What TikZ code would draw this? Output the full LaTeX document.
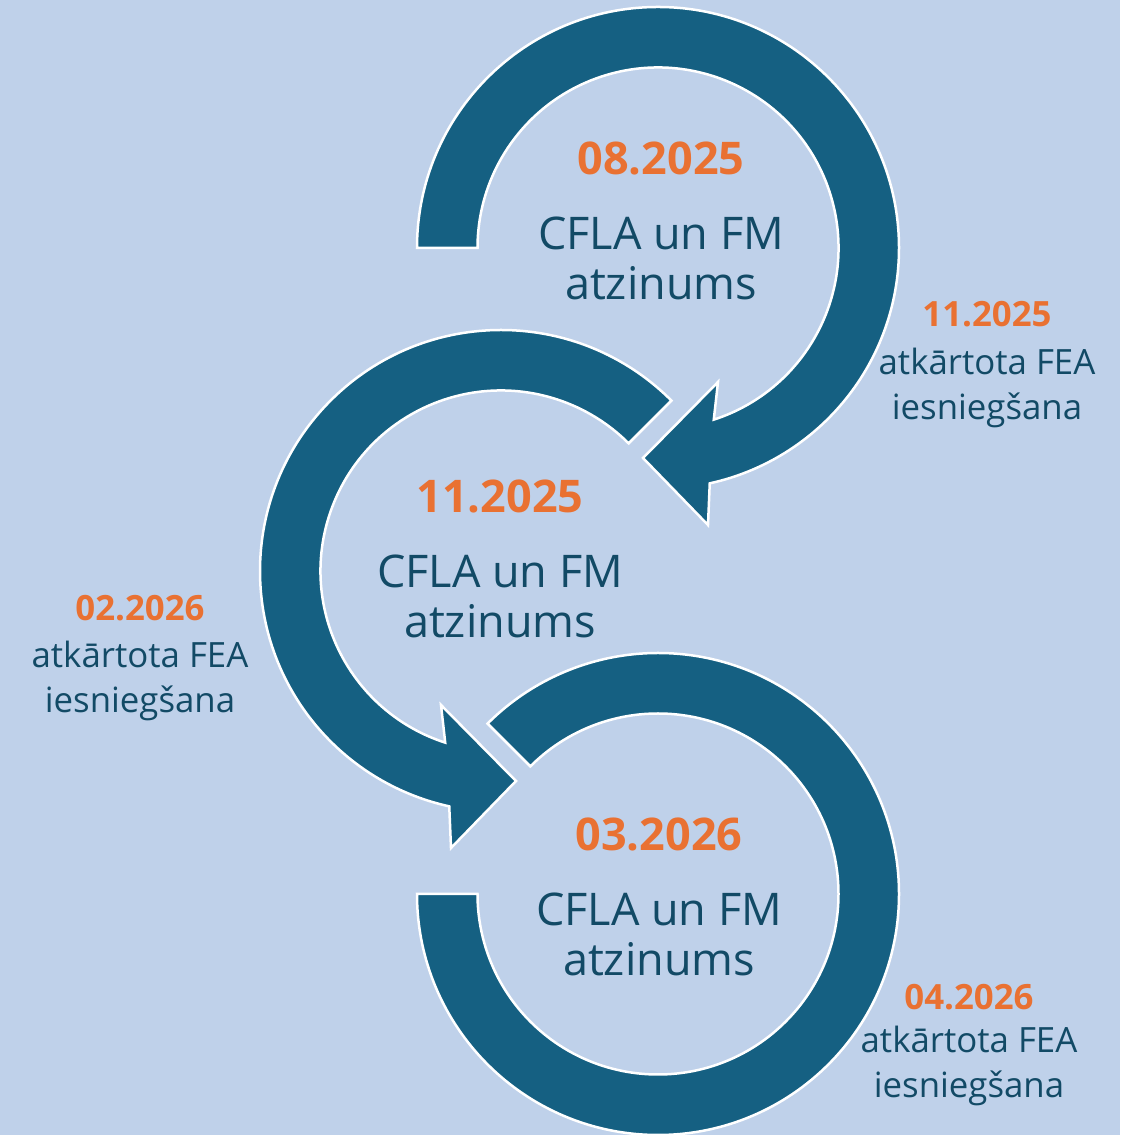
\documentclass[tikz,border=0pt]{standalone}
\usepackage{fontspec}
\setmainfont{Open Sans}
\definecolor{bgblue}{HTML}{BFD1EA}
\definecolor{ringblue}{HTML}{156082}
\definecolor{dateorange}{HTML}{E97132}
\definecolor{textblue}{HTML}{124A66}

\begin{document}
\begin{tikzpicture}[x=1pt,y=1pt,
    ring/.style={fill=ringblue,draw=white,line width=2.5pt,line join=miter},
    datebig/.style={anchor=base,inner sep=0,text=dateorange,font=\fontsize{45}{50}\selectfont\bfseries},
    textbig/.style={anchor=base,inner sep=0,text=textblue,font=\fontsize{45}{50}\selectfont},
    datesmall/.style={anchor=base,inner sep=0,text=dateorange,font=\fontsize{34.8}{44}\selectfont\bfseries},
    textsmall/.style={anchor=base,inner sep=0,text=textblue,font=\fontsize{34.8}{44}\selectfont}]
\useasboundingbox (0,0) rectangle (1120,1135);
\fill[bgblue] (0,0) rectangle (1120,1135);

% top ring, arrow going clockwise
\begin{scope}[shift={(658,887)}]
\draw[ring] (180:241) arc[start angle=180,end angle=-77.6,radius=241]
    -- (50,-277) -- (-15,-210) -- (60,-134)
    -- (-72:180.5) arc[start angle=-72,end angle=180,radius=180.5] -- cycle;
\end{scope}

% middle ring, arrow going anticlockwise
\begin{scope}[shift={(501,564)}]
\draw[ring] (45:241) arc[start angle=45,end angle=257.6,radius=241]
    -- (-50,-277) -- (15,-210) -- (-60,-134)
    -- (252:180.5) arc[start angle=252,end angle=45,radius=180.5] -- cycle;
\end{scope}

% bottom ring, no arrow
\begin{scope}[shift={(658,241)}]
\draw[ring] (180:241) arc[start angle=180,end angle=495,radius=241]
    -- (135:180.5) arc[start angle=135,end angle=-180,radius=180.5] -- cycle;
\end{scope}

\path
    (661,960) node [datebig] (date1) {08.2025}
    +(0,-75) node [textbig] (who1) {CFLA un FM}
    +(0,-125) node [textbig] (what1) {atzinums};
\path
    (500,622) node [datebig] (date2) {11.2025}
    +(0,-75) node [textbig] (who2) {CFLA un FM}
    +(0,-125) node [textbig] (what2) {atzinums};
\path
    (659,284) node [datebig] (date3) {03.2026}
    +(0,-75) node [textbig] (who3) {CFLA un FM}
    +(0,-125) node [textbig] (what3) {atzinums};

\path
    (987,808) node [datesmall] (resub1) {11.2025}
    +(0,-48) node [textsmall] (again1) {atkārtota FEA}
    +(0,-93) node [textsmall] (submit1) {iesniegšana};
\path
    (140,514) node [datesmall] (resub2) {02.2026}
    +(0,-47) node [textsmall] (again2) {atkārtota FEA}
    +(0,-92) node [textsmall] (submit2) {iesniegšana};
\path
    (969,125) node [datesmall] (resub3) {04.2026}
    +(0,-43) node [textsmall] (again3) {atkārtota FEA}
    +(0,-88) node [textsmall] (submit3) {iesniegšana};
\end{tikzpicture}
\end{document}
